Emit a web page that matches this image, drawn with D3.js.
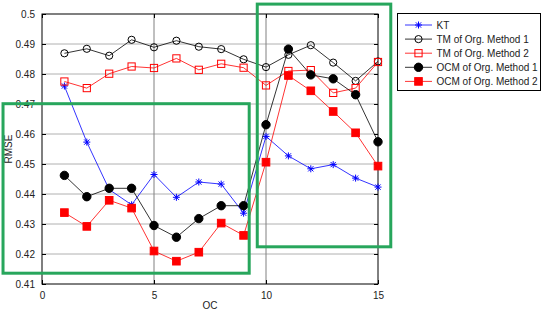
<!DOCTYPE html>
<html>
<head>
<script src="https://d3js.org/d3.v7.min.js"></script>
<style>
body { margin: 0; background: white; font-family: Arial, "Liberation Sans", sans-serif; }
</style>
</head>
<body>
<div id="chart"></div>
<script>
// data
const oc = [1, 2, 3, 4, 5, 6, 7, 8, 9, 10, 11, 12, 13, 14, 15];
const kt = [0.4760, 0.4573, 0.4415, 0.4364, 0.4465, 0.4389, 0.4440, 0.4433, 0.4336, 0.4592, 0.4527, 0.4484, 0.4498, 0.4453, 0.4423];
const tm1 = [0.4869, 0.4884, 0.4861, 0.4914, 0.4889, 0.4911, 0.4891, 0.4883, 0.4849, 0.4823, 0.4864, 0.4896, 0.4838, 0.4777, 0.4842];
const tm2 = [0.4775, 0.4753, 0.4801, 0.4825, 0.4820, 0.4852, 0.4814, 0.4834, 0.4821, 0.4762, 0.4810, 0.4813, 0.4737, 0.4753, 0.4840];
const ocm1 = [0.4462, 0.4391, 0.4419, 0.4419, 0.4295, 0.4256, 0.4318, 0.4361, 0.4361, 0.4631, 0.4883, 0.4797, 0.4784, 0.4731, 0.4574];
const ocm2 = [0.4338, 0.4292, 0.4379, 0.4353, 0.4210, 0.4176, 0.4206, 0.4303, 0.4262, 0.4506, 0.4795, 0.4744, 0.4675, 0.4604, 0.4493];
const seriesNames = ["KT", "TM of Org. Method 1", "TM of Org. Method 2", "OCM of Org. Method 1", "OCM of Org. Method 2"];
const xTicks = [0, 5, 10, 15];
const yTicks = [0.41, 0.42, 0.43, 0.44, 0.45, 0.46, 0.47, 0.48, 0.49, 0.5];
// highlight boxes in data units: [x0, x1, y0, y1]
const leftBox = [-1.74, 9.25, 0.4136, 0.4701];
const rightBox = [9.61, 15.57, 0.4224, 0.5033];

const width = 543, height = 310;
const marginLeft = 42, marginRight = 165, marginTop = 14, marginBottom = 26;

const x = d3.scaleLinear().domain([0, 15]).range([marginLeft, width - marginRight]);
const y = d3.scaleLinear().domain([0.41, 0.5]).range([height - marginBottom, marginTop]);

const svg = d3.create("svg")
    .attr("width", width)
    .attr("height", height)
    .attr("viewBox", [0, 0, width, height])
    .style("font-family", "Arial, 'Liberation Sans', sans-serif");

svg.append("rect").attr("width", width).attr("height", height).attr("fill", "white");

// grid
svg.append("g")
  .selectAll("line")
  .data(yTicks.slice(1, -1))
  .join("line")
    .attr("x1", x(0)).attr("x2", x(15))
    .attr("y1", d => y(d)).attr("y2", d => y(d))
    .attr("stroke", "#b0b0b0").attr("stroke-width", 1);
svg.append("g")
  .selectAll("line")
  .data(xTicks.slice(1, -1))
  .join("line")
    .attr("x1", d => x(d)).attr("x2", d => x(d))
    .attr("y1", y(0.41)).attr("y2", y(0.5))
    .attr("stroke", "#808080").attr("stroke-width", 1);

// axes with inward ticks
svg.append("g")
    .attr("transform", `translate(0,${y(0.41)})`)
    .call(d3.axisBottom(x).tickValues(xTicks).tickSize(-4).tickPadding(8).tickFormat(d3.format("d")))
    .call(g => g.select(".domain").remove())
    .call(g => g.selectAll("text").attr("font-size", 10).attr("fill", "#222"));
svg.append("g")
    .attr("transform", `translate(0,${y(0.5)})`)
    .call(d3.axisTop(x).tickValues(xTicks).tickSize(-4).tickFormat(""))
    .call(g => g.select(".domain").remove());
svg.append("g")
    .attr("transform", `translate(${x(0)},0)`)
    .call(d3.axisLeft(y).tickValues(yTicks).tickSize(-4).tickPadding(7).tickFormat(d => d3.format("")(+d.toFixed(2))))
    .call(g => g.select(".domain").remove())
    .call(g => g.selectAll("text").attr("font-size", 10).attr("fill", "#222"));
svg.append("g")
    .attr("transform", `translate(${x(15)},0)`)
    .call(d3.axisRight(y).tickValues(yTicks).tickSize(-4).tickFormat(""))
    .call(g => g.select(".domain").remove());

svg.append("rect")
    .attr("x", x(0)).attr("y", y(0.5))
    .attr("width", x(15) - x(0)).attr("height", y(0.41) - y(0.5))
    .attr("fill", "none").attr("stroke", "black").attr("stroke-width", 1);

// axis labels
svg.append("text")
    .attr("transform", `translate(12,${y(0.455)}) rotate(-90)`)
    .attr("text-anchor", "middle")
    .attr("font-size", 10).attr("fill", "#222")
    .text("RMSE");
svg.append("text")
    .attr("x", x(7.5)).attr("y", height - 1.5)
    .attr("text-anchor", "middle")
    .attr("font-size", 10).attr("fill", "#222")
    .text("OC");

// markers
function drawMarker(g, type, color, cx, cy) {
  if (type === "star") {
    const r = 3.5;
    g.append("path")
      .attr("d", `M${cx - r},${cy}H${cx + r}M${cx},${cy - r}V${cy + r}M${cx - r * 0.75},${cy - r * 0.75}L${cx + r * 0.75},${cy + r * 0.75}M${cx - r * 0.75},${cy + r * 0.75}L${cx + r * 0.75},${cy - r * 0.75}`)
      .attr("stroke", color).attr("stroke-width", 1).attr("fill", "none");
  } else if (type === "ocircle") {
    g.append("circle").attr("cx", cx).attr("cy", cy).attr("r", 3.6)
      .attr("fill", "none").attr("stroke", color).attr("stroke-width", 1);
  } else if (type === "osquare") {
    g.append("rect").attr("x", cx - 3.6).attr("y", cy - 3.6).attr("width", 7.2).attr("height", 7.2)
      .attr("fill", "none").attr("stroke", color).attr("stroke-width", 1);
  } else if (type === "fcircle") {
    g.append("circle").attr("cx", cx).attr("cy", cy).attr("r", 4.2)
      .attr("fill", color).attr("stroke", color);
  } else if (type === "fsquare") {
    g.append("rect").attr("x", cx - 3.8).attr("y", cy - 3.8).attr("width", 7.6).attr("height", 7.6)
      .attr("fill", color).attr("stroke", color);
  }
}

const series = [
  {name: seriesNames[0], values: kt, color: "#0000ff", marker: "star"},
  {name: seriesNames[1], values: tm1, color: "#000000", marker: "ocircle"},
  {name: seriesNames[2], values: tm2, color: "#ff0000", marker: "osquare"},
  {name: seriesNames[3], values: ocm1, color: "#000000", marker: "fcircle"},
  {name: seriesNames[4], values: ocm2, color: "#ff0000", marker: "fsquare"}
];

const line = d3.line().x((d, i) => x(oc[i])).y(d => y(d));

series.forEach(s => {
  const g = svg.append("g");
  g.append("path")
    .datum(s.values)
    .attr("d", line)
    .attr("fill", "none")
    .attr("stroke", s.color)
    .attr("stroke-width", 0.8);
  s.values.forEach((v, i) => drawMarker(g, s.marker, s.color, x(oc[i]), y(v)));
});

// green highlight boxes
[leftBox, rightBox].forEach(b => {
  svg.append("rect")
    .attr("x", x(b[0])).attr("y", y(b[3]))
    .attr("width", x(b[1]) - x(b[0])).attr("height", y(b[2]) - y(b[3]))
    .attr("fill", "none").attr("stroke", "#27a65c").attr("stroke-width", 3);
});

// legend
const legend = svg.append("g");
legend.append("rect")
    .attr("x", 397.5).attr("y", 13.5).attr("width", 143).attr("height", 77)
    .attr("fill", "white").attr("stroke", "black").attr("stroke-width", 1);
series.forEach((s, i) => {
  const ly = 25 + i * 14.1;
  legend.append("line")
    .attr("x1", 405).attr("x2", 432).attr("y1", ly).attr("y2", ly)
    .attr("stroke", s.color).attr("stroke-width", 0.8);
  drawMarker(legend, s.marker, s.color, 418.5, ly);
  legend.append("text")
    .attr("x", 436.5).attr("y", ly).attr("dy", "0.35em")
    .attr("font-size", 10).attr("fill", "#222")
    .text(s.name);
});

document.getElementById("chart").appendChild(svg.node());
</script>
</body>
</html>
